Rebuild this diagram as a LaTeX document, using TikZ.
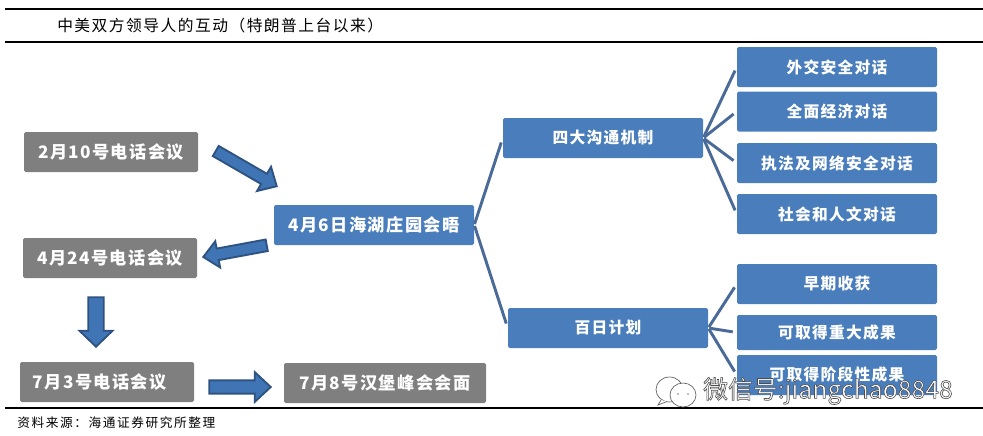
\documentclass[tikz,border=0pt]{standalone}
\usepackage{fontspec}
\usetikzlibrary{calc}
\newfontfamily\cjk[LetterSpace=8]{Noto Sans CJK SC}
\newfontfamily\cjktitle[LetterSpace=9.5]{Noto Sans CJK SC}
\newfontfamily\cjksource[LetterSpace=12.5]{Noto Sans CJK SC}
\newfontfamily\cjkplain{Noto Sans CJK SC}
\definecolor{boxblue}{HTML}{4A7DBB}
\definecolor{boxgray}{HTML}{7F7F7F}
\definecolor{linkblue}{HTML}{4A6A97}
\definecolor{arrowfill}{HTML}{3F74B5}
\definecolor{arrowedge}{HTML}{2F5380}
\tikzset{
  x=0.75pt, y=-0.75pt,
  boxsize/.style 2 args={minimum width=#1*0.75pt, minimum height=#2*0.75pt},
  basebox/.style={rectangle, rounded corners=1.2pt, inner sep=0pt, text=white,
    font=\cjk\bfseries\fontsize{11.8pt}{14pt}\selectfont},
  bluebox/.style={basebox, fill=boxblue},
  bigblue/.style={bluebox, font=\cjk\bfseries\fontsize{12.9pt}{14pt}\selectfont},
  graybox/.style={basebox, fill=boxgray, font=\cjk\bfseries\fontsize{12.9pt}{14pt}\selectfont},
  link/.style={draw=linkblue, line width=2.2pt, shorten >=3pt, shorten <=0.8pt},
  rule/.style={line width=1pt, black},
  blockshape/.style={draw=arrowedge, fill=arrowfill, line width=1.4pt, line join=miter},
  mark text/.style={inner sep=0pt, text=black},
}
% from, tip, shaft half-width, head half-width, head length (pt)
\newcommand{\blockarrow}[5]{%
  \coordinate (ba-a) at (#1);
  \coordinate (ba-b) at (#2);
  \coordinate (ba-c) at ($(ba-b)!#5!(ba-a)$);
  \draw[blockshape]
    ($(ba-a)!#3!90:(ba-b)$) --
    ($(ba-c)!#3!90:(ba-b)$) --
    ($(ba-c)!#4!90:(ba-b)$) --
    (ba-b) --
    ($(ba-c)!#4!-90:(ba-b)$) --
    ($(ba-c)!#3!-90:(ba-b)$) --
    ($(ba-a)!#3!-90:(ba-b)$) -- cycle;
}
\begin{document}
\begin{tikzpicture}
\useasboundingbox (0,0) rectangle (983,436);
% rules
\coordinate (r1a) at (5,9);  \coordinate (r1b) at (983,9);
\coordinate (r2a) at (5,42); \coordinate (r2b) at (983,42);
\coordinate (r3a) at (5,408); \coordinate (r3b) at (983,408);
\draw[rule] (r1a) -- (r1b);
\draw[rule] (r2a) -- (r2b);
\draw[rule] (r3a) -- (r3b);
% title and source
\node[mark text, anchor=west] (title) at (57,26)
  {\cjktitle\fontsize{11.8pt}{14pt}\selectfont 中美双方领导人的互动（特朗普上台以来）};
\node[mark text, anchor=west] (source) at (17,423)
  {\cjksource\fontsize{9.5pt}{12pt}\selectfont 资料来源：海通证券研究所整理};
% left boxes
\node[graybox, boxsize={174}{40}] (feb) at (111,152) {\raisebox{1.5pt}{2月10号电话会议}};
\node[graybox, boxsize={174}{40}] (apr) at (110,258) {\raisebox{0.7pt}{4月24号电话会议}};
\node[graybox, boxsize={174}{40}] (jul) at (107,382) {\raisebox{2pt}{\hspace{-8pt}7月3号电话会议\hspace{3pt}}};
\node[graybox, boxsize={202}{40}] (ham) at (385,383) {\raisebox{1.2pt}{7月8号汉堡峰会会面}};
\node[bigblue, boxsize={200}{40}] (mar) at (374,225) {4月6日海湖庄园会晤};
% middle boxes
\node[bluebox, boxsize={200}{40}] (four) at (603,138) {四大沟通机制};
\node[bluebox, boxsize={200}{40}] (hund) at (608,328) {百日计划};
% right boxes
\node[bluebox, boxsize={200}{40}] (r1) at (837,67) {\raisebox{0.7pt}{外交安全对话}};
\node[bluebox, boxsize={200}{40}] (r2) at (837,111.5) {\raisebox{0.7pt}{全面经济对话}};
\node[bluebox, boxsize={200}{40}] (r3) at (837,163) {\raisebox{0.7pt}{执法及网络安全对话}};
\node[bluebox, boxsize={200}{40}] (r4) at (837,214) {\raisebox{0.7pt}{社会和人文对话}};
\node[bluebox, boxsize={200}{40}] (r5) at (837,284) {\raisebox{0.7pt}{早期收获}};
\node[bluebox, boxsize={200}{35}] (r6) at (837,332.5) {\raisebox{-1.5pt}{可取得重大成果}};
\node[bluebox, boxsize={200}{40}] (r7) at (837,375) {\raisebox{1.5pt}{可取得阶段性成果}};
% connectors
\foreach \c in {four,hund} \draw[link, shorten >=3.5pt] (mar.east) -- (\c.west);
\foreach \c in {r1,r2,r3,r4} \draw[link] (four.east) -- (\c.west);
\foreach \c in {r5,r6,r7} \draw[link] (hund.east) -- (\c.west);
% block arrows
\blockarrow{$(feb.east)+(17.5,-1)$}{$(mar.north west)+(3,-18.5)$}{4.4pt}{10.5pt}{11pt}
\blockarrow{$(mar.south west)+(-7,0)$}{$(apr.east)+(6,-1)$}{4.4pt}{10pt}{11pt}
\blockarrow{$(apr.south)+(-14,19)$}{$(jul.north)+(-11,-15)$}{5.8pt}{12.4pt}{12pt}
\blockarrow{$(jul.east)+(15,5)$}{$(ham.west)+(-13,4)$}{5pt}{11.2pt}{12pt}
% watermark
\begin{scope}[draw=gray!75!black, line width=0.5pt, fill=white]
  \draw[fill=white] (669.5,389.5) ellipse [x radius=13.5, y radius=12.5];
  \coordinate (t1) at (661,400); \coordinate (t2) at (658,405); \coordinate (t3) at (667,401.5);
  \draw[fill=white] (t1) -- (t2) -- (t3);
  \draw[fill=white] (683,395) ellipse [x radius=13, y radius=12];
  \fill[gray] (678,394) circle (0.9) (688,394) circle (0.9);
\end{scope}
\node[inner sep=0pt, anchor=west, text=white] (wm) at (703,391)
  {\special{pdf:code q 2 Tr 0.45 w 0.3 G 1 g}\cjkplain\fontsize{18.6pt}{20pt}\selectfont 微信号:jiangchao8848\special{pdf:code Q}};
\end{tikzpicture}
\end{document}
